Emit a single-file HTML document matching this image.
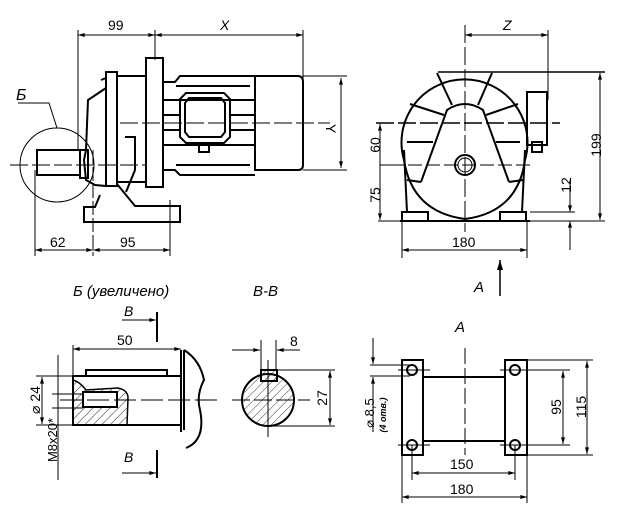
<!DOCTYPE html>
<html><head><meta charset="utf-8"><style>
html,body{margin:0;padding:0;background:#fff;width:617px;height:510px;overflow:hidden}
svg{display:block}
text{font-family:"Liberation Sans","DejaVu Sans",sans-serif;fill:#000}
.i{font-style:italic}
</style></head><body>
<svg width="617" height="510" viewBox="0 0 617 510" xmlns="http://www.w3.org/2000/svg">
<defs>
<marker id="a" viewBox="0 0 10 6" refX="10" refY="3" markerWidth="8" markerHeight="4" orient="auto-start-reverse"><path d="M0,0L10,3L0,6z" fill="#000"/></marker>
<pattern id="h" width="6" height="6" patternUnits="userSpaceOnUse" patternTransform="rotate(45)"><line x1="0" y1="0" x2="0" y2="6" stroke="#000" stroke-width="0.8"/></pattern>
</defs>
<g fill="none" stroke="#000" stroke-width="1">
<!-- LEFT VIEW -->
<line x1="78" y1="30" x2="78" y2="150"/><line x1="155" y1="30" x2="155" y2="60"/><line x1="303" y1="30" x2="303" y2="80"/>
<line x1="78" y1="35" x2="155" y2="35" marker-start="url(#a)" marker-end="url(#a)"/>
<line x1="155" y1="35" x2="303" y2="35" marker-start="url(#a)" marker-end="url(#a)"/>
<g stroke-width="2">
<rect x="146" y="58" width="17" height="129"/>
<rect x="106" y="72" width="11" height="114"/>
<polyline points="117,76 146,76"/><polyline points="117,182 146,182"/>
<polyline points="101,80 106,78 106,72"/>
<polyline points="106,88 88,100 86,150 84,160 86,180 95,185 106,186"/>
<rect x="80" y="150" width="8" height="28"/>
<polyline points="117,184 135,206 180,206 180,222 84,222 84,207 95,207 100,195"/>
<polyline points="125,137 135,137 135,170 126,192"/>
<path d="M163,82 L175,82 L180,76 L255,76 M163,170 L175,170 L180,175 L255,175"/>
<path d="M176,86 L250,86 M176,165 L250,165 M163,100 L255,100 M163,145 L255,145 M163,115 L180,115 M163,130 L180,130 M230,115 L255,115 M230,130 L255,130"/>
<path d="M255,76 L298,76 Q303,76 303,82 L303,165 Q303,170 298,170 L255,170 Z"/>
<path d="M186,93 L224,93 L230,99 L230,137 L224,143 L186,143 L180,137 L180,99 Z"/>
<path d="M189,98 L221,98 L225,103 L225,132 L221,137 L189,137 L185,132 L185,103 Z"/>
<rect x="199" y="143" width="10" height="9"/>
<rect x="37" y="150" width="43" height="25"/>
<line x1="43" y1="150" x2="73" y2="150"/>
</g>
<line x1="120" y1="123" x2="330" y2="123" stroke-dasharray="18,4"/>
<line x1="10" y1="165" x2="145" y2="165" stroke-dasharray="18,4"/>
<circle cx="57" cy="165" r="37"/>
<polyline points="18,103 49,103 57,128"/>
<line x1="303" y1="76" x2="347" y2="76"/><line x1="303" y1="170" x2="347" y2="170"/>
<line x1="341" y1="78" x2="341" y2="168" marker-start="url(#a)" marker-end="url(#a)"/>
<line x1="35" y1="170" x2="35" y2="256"/><line x1="93" y1="150" x2="93" y2="256" stroke-dasharray="14,3"/><line x1="170" y1="200" x2="170" y2="256"/>
<line x1="35" y1="250" x2="93" y2="250" marker-start="url(#a)" marker-end="url(#a)"/>
<line x1="93" y1="250" x2="170" y2="250" marker-start="url(#a)" marker-end="url(#a)"/>
<!-- RIGHT VIEW -->
<g stroke-width="2">
<path d="M404,160 A63,63 0 1 1 525,160"/>
<line x1="438" y1="72" x2="605" y2="72" stroke-width="1.5"/>
<polyline points="404,150 407,212"/><polyline points="525,150 522,212"/>
<line x1="400" y1="221" x2="530" y2="221"/>
<rect x="402" y="212" width="26" height="9"/><rect x="500" y="212" width="26" height="9"/>
<path d="M421,182 L447,110 Q465,98 483,110 L509,182"/>
<path d="M404,160 Q412,212 465,219 Q518,212 525,160"/>
<path d="M437,73 L452,105 M492,73 L478,105 M410,104 L444,115 M518,104 L486,115 M407,142 L433,142 M520,142 L496,142 M407,180 L421,182 M523,180 L509,182"/>
<rect x="527" y="92" width="20" height="53"/><rect x="532" y="142" width="10" height="10"/>
<circle cx="465" cy="165" r="10"/><circle cx="465" cy="165" r="7" stroke-width="1"/>
</g>
<line x1="465" y1="25" x2="465" y2="232" stroke-dasharray="18,4"/>
<line x1="376" y1="123" x2="560" y2="123" stroke-dasharray="18,4" stroke-width="1.5"/>
<line x1="390" y1="165" x2="533" y2="165" stroke-dasharray="14,4"/>
<line x1="548" y1="30" x2="548" y2="100"/>
<line x1="465" y1="35" x2="548" y2="35" marker-start="url(#a)" marker-end="url(#a)"/>
<line x1="530" y1="212" x2="575" y2="212"/><line x1="530" y1="221" x2="605" y2="221"/>
<line x1="600" y1="73" x2="600" y2="220" marker-start="url(#a)" marker-end="url(#a)"/>
<line x1="570" y1="180" x2="570" y2="212" marker-end="url(#a)"/><line x1="570" y1="250" x2="570" y2="221" marker-end="url(#a)"/>
<line x1="378" y1="221" x2="402" y2="221"/>
<line x1="380" y1="124" x2="380" y2="220" marker-start="url(#a)" marker-end="url(#a)"/>
<line x1="380" y1="165" x2="390" y2="165"/>
<line x1="402" y1="222" x2="402" y2="258"/><line x1="527" y1="222" x2="527" y2="258"/>
<line x1="402" y1="250" x2="527" y2="250" marker-start="url(#a)" marker-end="url(#a)"/>
<line x1="500" y1="296" x2="500" y2="260" marker-end="url(#a)" stroke-width="1.5"/>
<!-- DETAIL Б -->
<line x1="157" y1="312" x2="157" y2="342" stroke-width="2"/><line x1="122" y1="320" x2="156" y2="320" marker-end="url(#a)"/>
<line x1="157" y1="450" x2="157" y2="478" stroke-width="2"/><line x1="122" y1="473" x2="156" y2="473" marker-end="url(#a)"/>
<line x1="73" y1="345" x2="73" y2="376"/>
<line x1="73" y1="349" x2="181" y2="349" marker-start="url(#a)" marker-end="url(#a)"/>
<path d="M73,380 Q80,382 86,390 L118,388 Q128,390 128,398 L127,425 L73,425 Z" fill="url(#h)" stroke="none"/>
<g stroke-width="2">
<rect x="73" y="376" width="108" height="49"/>
<rect x="86" y="370" width="81" height="6"/>
<line x1="181" y1="350" x2="181" y2="432"/>
<path d="M184,350 L184,430 M184,350 Q200,360 204,380 Q196,395 200,410 Q206,440 186,448"/>
<rect x="83" y="392" width="34" height="15" fill="#fff"/>
<path d="M73,380 Q80,382 86,390 L118,388 Q128,390 128,398 L127,425" stroke-width="1.5"/>
</g>
<line x1="60" y1="400" x2="220" y2="400" stroke-dasharray="22,5"/>
<line x1="36" y1="376" x2="73" y2="376"/><line x1="36" y1="425" x2="73" y2="425"/>
<line x1="42" y1="377" x2="42" y2="424" marker-start="url(#a)" marker-end="url(#a)"/>
<line x1="52" y1="394" x2="83" y2="394"/><line x1="52" y1="408" x2="83" y2="408"/>
<line x1="58" y1="355" x2="58" y2="480"/>
<!-- SECTION В-В -->
<circle cx="268" cy="400" r="26" fill="url(#h)" stroke-width="2"/>
<rect x="261" y="370" width="16" height="11" fill="url(#h)" stroke-width="2"/>
<line x1="232" y1="400" x2="310" y2="400" stroke-dasharray="18,4"/>
<line x1="268" y1="360" x2="268" y2="437"/>
<line x1="261" y1="340" x2="261" y2="370"/><line x1="276" y1="340" x2="276" y2="370"/>
<line x1="232" y1="350" x2="260" y2="350" marker-end="url(#a)"/><line x1="300" y1="350" x2="277" y2="350" marker-end="url(#a)"/>
<line x1="277" y1="370" x2="335" y2="370"/><line x1="270" y1="426" x2="335" y2="426"/>
<line x1="330" y1="371" x2="330" y2="425" marker-start="url(#a)" marker-end="url(#a)"/>
<!-- VIEW A -->
<g stroke-width="2">
<rect x="402" y="360" width="21" height="95"/><rect x="505" y="360" width="22" height="95"/>
<line x1="423" y1="377" x2="505" y2="377"/><line x1="423" y1="441" x2="505" y2="441"/>
<circle cx="412" cy="370" r="5"/><circle cx="515" cy="370" r="5"/><circle cx="412" cy="445" r="5"/><circle cx="515" cy="445" r="5"/>
</g>
<line x1="465" y1="348" x2="465" y2="455" stroke-dasharray="16,4"/>
<line x1="398" y1="370" x2="430" y2="370"/><line x1="398" y1="445" x2="430" y2="445"/>
<line x1="500" y1="370" x2="570" y2="370"/><line x1="500" y1="445" x2="570" y2="445"/>
<line x1="527" y1="360" x2="593" y2="360"/><line x1="527" y1="455" x2="593" y2="455"/>
<line x1="563" y1="371" x2="563" y2="444" marker-start="url(#a)" marker-end="url(#a)"/>
<line x1="587" y1="361" x2="587" y2="454" marker-start="url(#a)" marker-end="url(#a)"/>
<line x1="412" y1="445" x2="412" y2="480"/><line x1="515" y1="445" x2="515" y2="480"/>
<line x1="402" y1="455" x2="402" y2="503"/><line x1="527" y1="455" x2="527" y2="503"/>
<line x1="412" y1="473" x2="515" y2="473" marker-start="url(#a)" marker-end="url(#a)"/>
<line x1="402" y1="497" x2="527" y2="497" marker-start="url(#a)" marker-end="url(#a)"/>
<line x1="370" y1="365" x2="410" y2="365"/><line x1="370" y1="376" x2="410" y2="376"/>
<line x1="373" y1="338" x2="373" y2="364" marker-end="url(#a)"/><line x1="373" y1="392" x2="373" y2="377" marker-end="url(#a)"/>
<line x1="373" y1="392" x2="373" y2="432"/>
</g>
<!-- TEXT -->
<g font-size="14">
<text x="108" y="30">99</text>
<text x="220" y="30" class="i">X</text>
<text x="16" y="100" class="i" font-size="16">Б</text>
<text x="330" y="128" transform="rotate(90 330 124)">Y</text>
<text x="50" y="247">62</text>
<text x="120" y="247">95</text>
<text x="503" y="30" class="i">Z</text>
<text x="375" y="150" transform="rotate(-90 375 145)" text-anchor="middle">60</text>
<text x="375" y="200" transform="rotate(-90 375 195)" text-anchor="middle">75</text>
<text x="596" y="150" transform="rotate(-90 596 145)" text-anchor="middle">199</text>
<text x="566" y="190" transform="rotate(-90 566 185)" text-anchor="middle">12</text>
<text x="452" y="247">180</text>
<text x="474" y="292" class="i" font-size="15">A</text>
<text x="73" y="296" class="i" font-size="15">Б  (увеличено)</text>
<text x="253" y="296" class="i" font-size="15">В-В</text>
<text x="124" y="316" class="i">В</text>
<text x="124" y="462" class="i">В</text>
<text x="117" y="345">50</text>
<text x="290" y="346">8</text>
<text x="325" y="400" transform="rotate(-90 325 398)" text-anchor="middle">27</text>
<text x="36" y="404" transform="rotate(-90 36 400)" text-anchor="middle">⌀ 24</text>
<text x="54" y="443" transform="rotate(-90 54 440)" text-anchor="middle" font-size="13">M8x20*</text>
<text x="455" y="332" class="i" font-size="15">A</text>
<text x="370" y="417" transform="rotate(-90 370 413)" text-anchor="middle" font-size="13">⌀ 8,5</text>
<text x="383" y="418" transform="rotate(-90 383 415)" text-anchor="middle" font-size="9" class="i" font-weight="bold">(4 отв.)</text>
<text x="556" y="412" transform="rotate(-90 556 407)" text-anchor="middle">95</text>
<text x="581" y="412" transform="rotate(-90 581 407)" text-anchor="middle">115</text>
<text x="450" y="469">150</text>
<text x="450" y="494">180</text>
</g>
</svg>
</body></html>
